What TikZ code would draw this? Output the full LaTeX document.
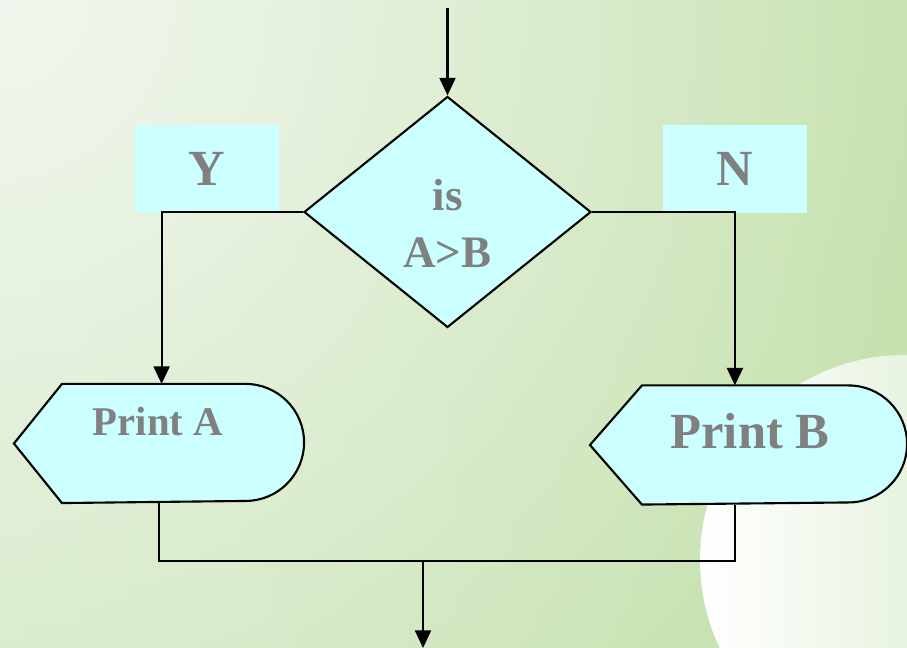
\documentclass[tikz,border=0pt]{standalone}
\usepackage{fontspec}
\setmainfont{Liberation Serif}
\usepackage{xcolor}
\usepackage{tikz}
\usetikzlibrary{arrows.meta,positioning,shapes.geometric}
\usetikzlibrary{calc,fadings}

\definecolor{boxcyan}{HTML}{CCFFFF}
\definecolor{txtgray}{HTML}{808080}
\definecolor{bgleft}{HTML}{D1E7C0}
\definecolor{bgright}{HTML}{C6E2AF}
\definecolor{bglight}{HTML}{F1F7EE}
\definecolor{globegreen}{HTML}{D2E8C2}
\tikzfading[name=softglow,
  inner color=transparent!0,
  outer color=transparent!100]

\begin{document}
\begin{tikzpicture}[
  x=0.25mm,
  y=0.25mm,
  line width=1.5pt,
  flag/.style={
    rectangle,
    fill=boxcyan,
    minimum width=36mm,
    minimum height=22mm,
    inner sep=0pt,
    text=txtgray,
    font=\fontsize{36}{40}\selectfont\bfseries
  },
  decision/.style={
    diamond,
    draw,
    fill=boxcyan,
    minimum width=71.75mm,
    minimum height=57.75mm,
    inner sep=0pt
  },
  display/.style={
    rectangle,
    inner sep=0pt,
    minimum height=29.25mm
  },
  lbl/.style={
    text=txtgray,
    align=center,
    inner sep=0pt
  },
  arr/.style={
    -{Triangle[length=4.4mm,width=4mm]}
  }
]
\useasboundingbox (0,0) rectangle (907,648);
% background and globe
\begin{scope}
  \clip (0,0) rectangle (907,648);
  \shade[left color=bgleft, right color=bgright]
    (0,0) rectangle (907,648);
  \fill[bglight, path fading=softglow] (0,648) circle (950);
  \shade[left color=white, right color=globegreen]
    (905,88) circle (205);
\end{scope}

\node[flag] (yes) at (207,479) {Y};
\node[flag] (no) at (735,479) {N};

\node[decision] (decide) at (447.5,436) {};
\node[
  lbl,
  font=\fontsize{32}{40.5}\selectfont\bfseries
] (cond) at (447.5,425)
{is\\A>B};

\node[display, minimum width=72mm] (printA) at (159,204.5) {};
\draw[fill=boxcyan]
  (printA.west)
  -- ([xshift=12mm]printA.north west)
  -- ([xshift=-14.625mm]printA.north east)
  arc[start angle=90, end angle=-90, radius=14.625mm]
  -- ([xshift=12mm]printA.south west)
  -- cycle;
\node[
  lbl,
  font=\fontsize{29}{34}\selectfont\bfseries
] (printAtxt) at (158,226)
{Print A};

\node[display, minimum width=78.75mm] (printB) at (748.5,203) {};
\draw[fill=boxcyan]
  (printB.west)
  -- ([xshift=13mm]printB.north west)
  -- ([xshift=-14.625mm]printB.north east)
  arc[start angle=90, end angle=-90, radius=14.625mm]
  -- ([xshift=13mm]printB.south west)
  -- cycle;
\node[
  lbl,
  font=\fontsize{36}{40}\selectfont\bfseries
] (printBtxt) at (750,217)
{Print B};

\coordinate (entry) at (447.5,640);
\coordinate (merge) at (423,87);
\coordinate (exit) at (423,0);

\draw[arr] (entry) -- (decide.north);
\draw[arr]
  (decide.west) -| ([xshift=0.65mm]printA.north);
\draw[arr]
  (decide.east) -| ([xshift=-3.4mm]printB.north);
\draw
  (printA.south) |- (merge)
  -| ([xshift=-3.4mm]printB.south);
\draw[arr] (merge) -- (exit);
\end{tikzpicture}
\end{document}
